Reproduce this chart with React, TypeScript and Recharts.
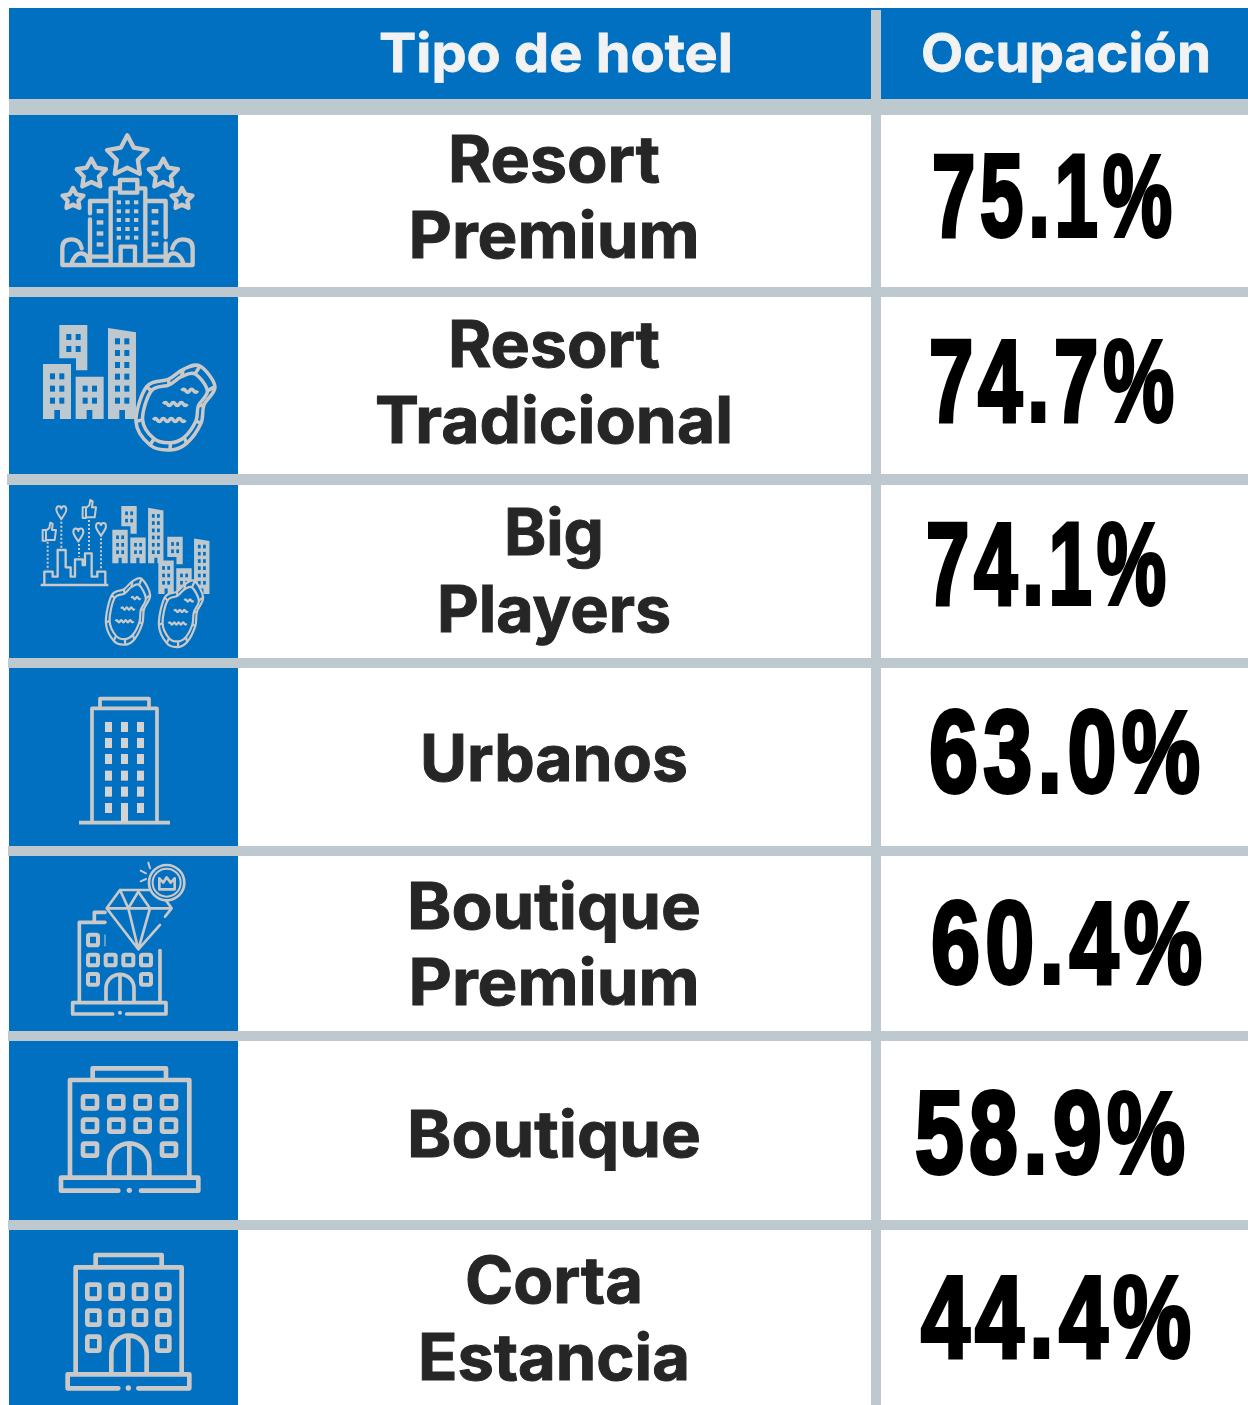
/**
 * Occupancy by hotel type, drawn as a table on a vertical Recharts bar chart.
 * Each bar's shape paints its table row, axis ticks paint names, labels paint values.
 */
import { Bar, BarChart, LabelList, XAxis, YAxis } from "recharts";

const categories = [
  "Resort Premium",
  "Resort Tradicional",
  "Big Players",
  "Urbanos",
  "Boutique Premium",
  "Boutique",
  "Corta Estancia",
];
const occupancy = [75.1, 74.7, 74.1, 63.0, 60.4, 58.9, 44.4];
const headers = ["Tipo de hotel", "Ocupación"];

const rows = categories.map((name, i) => ({ name, occupancy: occupancy[i] }));

// table layout
const BLUE = "#0170C1";
const GREY = "#BDC8CF";
const ICON = "#C9C9C9";
const TEXT_FONT = "Inter, 'Open Sans', sans-serif";
const NUM_FONT = "'Liberation Sans', sans-serif";
const NUM_SIZE = 116;
const NUM_SPACING = 7;
const NUM_NATURAL = 2.835 * NUM_SIZE + 4 * NUM_SPACING; // width of "00.0%" in Liberation Sans Bold
const cellTops = [115, 297, 485, 668, 856, 1041, 1230];
const cellBottoms = [287, 474, 658, 846, 1031, 1220, 1405];
const ruleStarts = [9, 7, 8, 8, 8, 8];
const nameBaselines = [[182, 258], [367, 443], [555, 632], [781], [929, 1005], [1157], [1303, 1380]];
const nameWidths = [[212, 291], [212, 358], [100, 234], [268], [294, 291], [294], [178, 272]];
const valueLefts = [932, 929, 926, 929, 931, 915, 921];
const valueWidths = [240, 245, 240, 271, 271, 270, 270];
const valueBaselines = [236, 421, 604, 792, 983, 1173, 1357];

const line = { fill: "none", stroke: ICON, strokeWidth: 13, strokeLinejoin: "round", strokeLinecap: "round" } as const;

function starPath(cx: number, cy: number, r: number) {
  const pts: string[] = [];
  for (let i = 0; i < 10; i++) {
    const a = -Math.PI / 2 + (i * Math.PI) / 5;
    const rad = i % 2 ? r * 0.52 : r;
    pts.push(`${cx + rad * Math.cos(a)},${cy + rad * Math.sin(a)}`);
  }
  return `M${pts.join("L")}Z`;
}

function smooth(pts: number[][]) {
  const n = pts.length;
  let d = `M${pts[0][0]},${pts[0][1]}`;
  for (let i = 0; i < n; i++) {
    const [p0, p1, p2, p3] = [pts[(i + n - 1) % n], pts[i], pts[(i + 1) % n], pts[(i + 2) % n]];
    d += `C${p1[0] + (p2[0] - p0[0]) / 6},${p1[1] + (p2[1] - p0[1]) / 6} ${p2[0] - (p3[0] - p1[0]) / 6},${p2[1] - (p3[1] - p1[1]) / 6} ${p2[0]},${p2[1]}`;
  }
  return d + "Z";
}

function wave(x: number, y: number, bumps: number) {
  let d = `M${x},${y}`;
  for (let i = 0; i < bumps; i++) d += `q6,-9 12,0 q6,9 12,0`;
  return d;
}

const poolOuter = [[440, 290], [505, 268], [550, 238], [600, 228], [645, 290], [612, 345], [603, 400], [560, 460], [510, 480], [450, 465], [408, 395]];
const poolInner = poolOuter.map(([x, y]) => [518 + (x - 518) * 0.82, 360 + (y - 360) * 0.82]);

function Pool({ width, transform }: { width: number; transform?: string }) {
  const s = { fill: "none", stroke: ICON, strokeWidth: width, vectorEffect: "non-scaling-stroke" } as const;
  return (
    <g transform={transform}>
      <path d={smooth(poolOuter)} {...s} fill={BLUE} />
      <path d={smooth(poolInner)} {...s} />
      {poolOuter.map(([x, y], i) => (
        <path key={i} d={`M${x},${y}L${poolInner[i][0]},${poolInner[i][1]}`} {...s} />
      ))}
      <path d={wave(545, 302, 2)} {...s} />
      <path d={wave(490, 342, 3)} {...s} />
      <path d={wave(460, 390, 4)} {...s} />
    </g>
  );
}

function Block({ d, xs, ys, transform }: { d: string; xs: number[]; ys: number[]; transform?: string }) {
  return (
    <g transform={transform}>
      <path d={d} fill={GREY} />
      {xs.flatMap((x) => ys.map((y) => <rect key={`${x}-${y}`} x={x} y={y} width={15} height={18} fill={BLUE} />))}
    </g>
  );
}

function Towers({ transform }: { transform?: string }) {
  return (
    <g transform={transform}>
      <Block d="M178,105H262V241H228V205H178Z" xs={[199, 227]} ys={[132, 168]} />
      <Block d="M129,222H213V387H180V360H163V387H129Z" xs={[150, 178]} ys={[250, 287, 323]} />
      <Block d="M227,260H311V387H277V360H260V387H227Z" xs={[248, 276]} ys={[287, 323]} />
      <Block d="M324,114L408,127V387H375V360H358V387H324Z" xs={[345, 373]} ys={[145, 180, 216, 251, 287, 323]} />
    </g>
  );
}

function heart(x: number, y: number) {
  return `M${x},${y + 20}C${x - 6},${y + 8} ${x - 16},${y} ${x - 15},${y - 10}C${x - 14},${y - 22} ${x - 2},${y - 22} ${x},${y - 12}C${x + 2},${y - 22} ${x + 14},${y - 22} ${x + 15},${y - 10}C${x + 16},${y} ${x + 6},${y + 8} ${x},${y + 20}Z`;
}

function thumb(x: number, y: number) {
  return `M${x},${y - 10}H${x + 10}V${y + 22}H${x}ZM${x + 10},${y - 8}L${x + 20},${y - 16}L${x + 23},${y - 32}L${x + 30},${y - 28}L${x + 28},${y - 10}H${x + 40}L${x + 36},${y + 20}H${x + 10}`;
}

const Win = ({ x, y, w, h, sw }: { x: number; y: number; w: number; h: number; sw?: number }) => (
  <rect x={x} y={y} width={w} height={h} rx={5} {...line} strokeWidth={sw ?? 14} />
);

function Icon1() {
  const stars: number[][] = [[382, 470, 64], [274, 522, 46], [490, 522, 46], [219, 597, 33], [546, 597, 33]];
  return (
    <g transform="scale(0.3333)">
      {stars.map(([x, y, r]) => <path key={x} d={starPath(x, y, r)} {...line} />)}
      <rect x={360} y={540} width={52} height={38} {...line} />
      <path d="M332,790V565H360M412,565H436V790M332,603H270V640M270,658V790M436,603H497V712M497,730V790M187,795H578M270,770H330M440,770H495M187,795V745Q187,718 215,718Q240,718 245,745M215,790Q225,760 243,760Q262,760 265,785M578,795V745Q578,718 548,718Q525,718 517,745M550,790Q540,760 520,760Q505,760 500,785M362,790V740H405V790" {...line} />
      {[350, 376, 402].flatMap((x) => [601, 628, 654, 681, 707].map((y) => <rect key={`${x}${y}`} x={x} y={y} width={13} height={12} fill={ICON} />))}
      {[290, 455].flatMap((x) => [627, 661, 694, 727].map((y) => <rect key={`${x}${y}`} x={x} y={y} width={20} height={13} fill={ICON} />))}
    </g>
  );
}

function Icon2() {
  return (
    <g transform="translate(0,290) scale(0.3333)">
      <Towers />
      <Pool width={3.5} />
      <circle cx={470} cy={274} r={5} fill={ICON} />
    </g>
  );
}

function Icon3() {
  const dots = [[184, 695, 775], [143, 755, 840], [237, 762, 800], [267, 690, 785], [303, 745, 838]];
  return (
    <g transform="translate(0,290) scale(0.3333)">
      <path d="M122,885H325M133,885V845H158V860H173V780H197V832H212V860H225V808H248V825H255V790H275V860H292V845H316V885" {...line} strokeWidth={7} strokeLinecap="butt" />
      {dots.map(([x, a, b]) => (
        <path key={x} d={`M${x},${a}V${b}`} fill="none" stroke={ICON} strokeWidth={6} strokeDasharray="6 6" />
      ))}
      {[[184, 668], [235, 735], [303, 718]].map(([x, y]) => <path key={x} d={heart(x, y)} {...line} strokeWidth={6} />)}
      {[[128, 730], [248, 662]].map(([x, y]) => <path key={x} d={thumb(x, y)} {...line} strokeWidth={6} />)}
      <Towers transform="translate(337 648) scale(.55 .61) translate(-129 -105)" />
      <Towers transform="translate(475 740) scale(.55 .61) translate(-129 -105)" />
      <Pool width={2.2} transform="translate(316 868) scale(.56 .785) translate(-405 -230)" />
      <Pool width={2.2} transform="translate(475 875) scale(.56 .785) translate(-405 -230)" />
    </g>
  );
}

function Icon4() {
  return (
    <g transform="translate(0,660) scale(0.3333)">
      <path d="M237,488H510M276,488V145H471V488M300,143V116H447V143" {...line} strokeWidth={11} strokeLinecap="butt" />
      {[315, 363, 411].flatMap((x) => [186, 234, 282, 332, 380, 429].map((y) => (
        <rect key={`${x}${y}`} x={x} y={y} width={21} height={y === 429 && x === 363 ? 56 : 30} fill="#D2D3D5" />
      )))}
    </g>
  );
}

function Icon5() {
  return (
    <g transform="translate(0,660) scale(0.3333)">
      <path d="M338,1062H218V1028H498V1062H380M238,1025V787H283V757H315M283,787H315M480,872V1025M318,1025V985A42,42 0 0,1 402,985V1025M360,945V1025" {...line} strokeWidth={11} />
      <path d="M315,825V858" {...line} strokeWidth={3} />
      <circle cx={360} cy={1058} r={6} fill={ICON} />
      {[[262, 822], [262, 882], [315, 882], [368, 882], [421, 882], [262, 940], [421, 940]].map(([x, y]) => (
        <Win key={`${x}${y}`} x={x + 2} y={y + 2} w={30} h={32} sw={12} />
      ))}
      <path d="M480,795L415,868L320,745L360,690H475L515,745L495,770M320,745H515M360,690L385,745L415,695L450,745M385,745L415,868L450,745" {...line} strokeWidth={8} />
      <circle cx={500} cy={668} r={53} {...line} fill={BLUE} strokeWidth={8} />
      <circle cx={500} cy={668} r={42} {...line} strokeWidth={6} />
      <path d="M478,655L490,668L500,652L512,668L524,655V688H478Z" {...line} strokeWidth={8} />
      <path d="M445,608L450,625M422,632L438,640M422,664L438,657" {...line} strokeWidth={6} />
    </g>
  );
}

function Icon6() {
  return (
    <g transform="translate(0,1030) scale(0.3333)">
      <path d="M278,148V115H498V148M210,440V150H568V440M328,440V400A60,60 0 0,1 448,400V440M388,340V440M355,482H183V443H595V482H423" {...line} strokeWidth={14} />
      <circle cx={388} cy={481} r={8} fill={ICON} />
      {[[249, 199], [328, 199], [407, 199], [486, 199], [249, 269], [328, 269], [407, 269], [486, 269], [249, 341], [486, 341]].map(([x, y]) => (
        <Win key={`${x}${y}`} x={x} y={y} w={42} h={36} />
      ))}
    </g>
  );
}

function Icon7() {
  return (
    <g transform="translate(0,1030) scale(0.3333)">
      <path d="M287,708V675H485V708M227,1028V712H545V1028M334,1028V970A50,50 0 0,1 440,970V1028M385,925V1028M355,1075H203V1033H568V1075H415" {...line} strokeWidth={14} />
      <circle cx={385} cy={1074} r={8} fill={ICON} />
      {[[262, 764], [332, 764], [402, 764], [472, 764], [262, 842], [332, 842], [402, 842], [472, 842], [262, 920], [472, 920]].map(([x, y]) => (
        <Win key={`${x}${y}`} x={x} y={y} w={36} h={42} />
      ))}
    </g>
  );
}

const icons = [Icon1, Icon2, Icon3, Icon4, Icon5, Icon6, Icon7];

function RowShape({ index }: { index?: number }) {
  const i = index ?? 0;
  const Glyph = icons[i];
  return (
    <g>
      <rect x={9} y={cellTops[i]} width={229} height={cellBottoms[i] - cellTops[i]} fill={BLUE} />
      <rect x={871} y={cellTops[i]} width={10} height={cellBottoms[i] - cellTops[i]} fill={GREY} />
      {i < ruleStarts.length && (
        <rect x={ruleStarts[i]} y={cellBottoms[i]} width={1248 - ruleStarts[i]} height={cellTops[i + 1] - cellBottoms[i]} fill={GREY} />
      )}
      <Glyph />
    </g>
  );
}

function NameTick({ index, payload }: { index?: number; payload?: { value: string } }) {
  const i = index ?? 0;
  const words = String(payload?.value).split(" ");
  return (
    <g>
      {words.map((w, k) => (
        <text key={w} x={554} y={nameBaselines[i][k]} textAnchor="middle" textLength={nameWidths[i][k]}
          lengthAdjust="spacingAndGlyphs" fontFamily={TEXT_FONT} fontWeight={700} fontSize={64} fill="#262626"
          stroke="#262626" strokeWidth={1}>
          {w}
        </text>
      ))}
    </g>
  );
}

function ValueLabel({ index, value }: { index?: number; value?: number }) {
  const i = index ?? 0;
  const sx = valueWidths[i] / NUM_NATURAL;
  return (
    <text transform={`translate(${valueLefts[i]} ${valueBaselines[i]}) scale(${sx} 1)`} letterSpacing={NUM_SPACING}
      fontFamily={NUM_FONT} fontWeight={700} fontSize={NUM_SIZE} fill="#000" stroke="#000" strokeWidth={4}>
      {`${Number(value).toFixed(1)}%`}
    </text>
  );
}

function Header() {
  return (
    <g>
      <rect x={9} y={8} width={1239} height={91} fill={BLUE} />
      <rect x={9} y={99} width={1239} height={16} fill={GREY} />
      <rect x={871} y={10} width={10} height={105} fill={GREY} />
      <text x={379} y={72} textLength={354} lengthAdjust="spacingAndGlyphs" fontFamily={TEXT_FONT} fontWeight={700} fontSize={54} fill="#F2F2F2" stroke="#F2F2F2" strokeWidth={0.8}>
        {headers[0]}
      </text>
      <text x={921} y={72} textLength={290} lengthAdjust="spacingAndGlyphs" fontFamily={TEXT_FONT} fontWeight={700} fontSize={54} fill="#F2F2F2" stroke="#F2F2F2" strokeWidth={0.8}>
        {headers[1]}
      </text>
    </g>
  );
}

export default function App() {
  return (
    <div style={{ position: "absolute", left: 0, top: 0, width: 1248, height: 1405, background: "#fff" }}>
      <BarChart width={1248} height={1405} layout="vertical" data={rows} margin={{ top: 0, right: 0, bottom: 0, left: 0 }}>
        <XAxis type="number" domain={[0, 100]} hide />
        <YAxis type="category" dataKey="name" width={1} interval={0} axisLine={false} tickLine={false} tick={NameTick as never} />
        <Header />
        <Bar dataKey="occupancy" isAnimationActive={false} shape={RowShape as never}>
          <LabelList dataKey="occupancy" content={ValueLabel as never} />
        </Bar>
      </BarChart>
    </div>
  );
}
